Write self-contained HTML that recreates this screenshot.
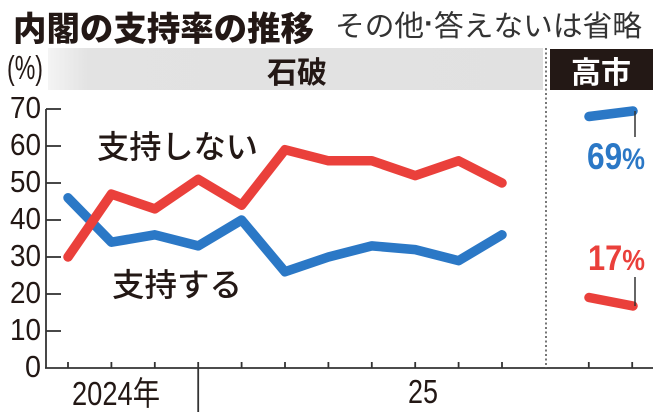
<!DOCTYPE html>
<html><head><meta charset="utf-8"><style>
html,body{margin:0;padding:0;background:#fff;}
svg{display:block;}
text{font-family:"Liberation Sans","Noto Sans CJK JP",sans-serif;}
.cjk{font-family:"Noto Sans CJK JP","Liberation Sans",sans-serif;}
</style></head><body>
<svg width="667" height="419" viewBox="0 0 667 419" xmlns="http://www.w3.org/2000/svg">
<defs>
<linearGradient id="g" x1="0" x2="1" y1="0" y2="0">
<stop offset="0" stop-color="#f4f4f4"/>
<stop offset="0.08" stop-color="#e3e3e3"/>
<stop offset="1" stop-color="#e1e1e1"/>
</linearGradient>
</defs>
<rect width="667" height="419" fill="#fff"/>
<!-- title -->
<text class="cjk" x="13" y="26" dominant-baseline="central" font-size="33.5" font-weight="900" fill="#231815" textLength="301" lengthAdjust="spacingAndGlyphs">内閣の支持率の推移</text>
<text class="cjk" x="335" y="24" dominant-baseline="central" font-size="29" font-weight="400" fill="#333" textLength="307" lengthAdjust="spacingAndGlyphs">その他<tspan font-family="Liberation Sans" font-weight="700">·</tspan>答えないは省略</text>
<!-- header band -->
<rect x="48" y="48" width="495" height="42" fill="url(#g)"/>
<text class="cjk" x="297" y="70" text-anchor="middle" dominant-baseline="central" font-size="30" font-weight="700" fill="#231815">石破</text>
<rect x="550" y="49" width="103" height="41" fill="#231815"/>
<text class="cjk" x="601" y="70" text-anchor="middle" dominant-baseline="central" font-size="30" font-weight="700" fill="#fff">高市</text>
<text x="7" y="79" font-size="33" fill="#231815" textLength="36" lengthAdjust="spacingAndGlyphs">(%)</text>
<!-- y labels -->
<g font-size="31" fill="#231815">
<text x="10" y="118" textLength="31" lengthAdjust="spacingAndGlyphs">70</text>
<text x="10" y="155" textLength="31" lengthAdjust="spacingAndGlyphs">60</text>
<text x="10" y="192" textLength="31" lengthAdjust="spacingAndGlyphs">50</text>
<text x="10" y="229" textLength="31" lengthAdjust="spacingAndGlyphs">40</text>
<text x="10" y="266" textLength="31" lengthAdjust="spacingAndGlyphs">30</text>
<text x="10" y="303" textLength="31" lengthAdjust="spacingAndGlyphs">20</text>
<text x="10" y="340" textLength="31" lengthAdjust="spacingAndGlyphs">10</text>
<text x="25" y="377" textLength="16" lengthAdjust="spacingAndGlyphs">0</text>
</g>
<!-- axes -->
<g stroke="#333" stroke-width="1.8" fill="none">
<line x1="46" y1="109" x2="46" y2="368"/>
<line x1="45" y1="368" x2="653" y2="368"/>
<line x1="46" y1="109" x2="61" y2="109"/>
<line x1="46" y1="146" x2="61" y2="146"/>
<line x1="46" y1="183" x2="61" y2="183"/>
<line x1="46" y1="220" x2="61" y2="220"/>
<line x1="46" y1="257" x2="61" y2="257"/>
<line x1="46" y1="294" x2="61" y2="294"/>
<line x1="46" y1="331" x2="61" y2="331"/>
<line x1="68" y1="362" x2="68" y2="368"/>
<line x1="111.4" y1="362" x2="111.4" y2="368"/>
<line x1="154.8" y1="362" x2="154.8" y2="368"/>
<line x1="198.2" y1="362" x2="198.2" y2="412"/>
<line x1="241.6" y1="362" x2="241.6" y2="368"/>
<line x1="285" y1="362" x2="285" y2="368"/>
<line x1="328.4" y1="362" x2="328.4" y2="368"/>
<line x1="371.8" y1="362" x2="371.8" y2="368"/>
<line x1="415.2" y1="362" x2="415.2" y2="368"/>
<line x1="458.6" y1="362" x2="458.6" y2="368"/>
<line x1="502" y1="362" x2="502" y2="368"/>
<line x1="588.8" y1="362" x2="588.8" y2="368"/>
<line x1="632.2" y1="362" x2="632.2" y2="368"/>
</g>
<line x1="546" y1="48" x2="546" y2="368" stroke="#555" stroke-width="1.6" stroke-dasharray="2,2.5"/>
<!-- x labels -->
<text x="72" y="405" font-size="33" fill="#231815" textLength="88" lengthAdjust="spacingAndGlyphs">2024年</text>
<text x="408" y="403" font-size="33" fill="#231815" textLength="30" lengthAdjust="spacingAndGlyphs">25</text>
<!-- series -->
<g fill="none" stroke-width="9.5" stroke-linecap="round" stroke-linejoin="round">
<polyline stroke="#2b78c6" points="68,197.8 111.4,242.2 154.8,234.8 198.2,245.9 241.6,220 285,271.8 328.4,257 371.8,245.9 415.2,249.6 458.6,260.7 502,234.8"/>
<polyline stroke="#ea403b" points="68,257 111.4,194.1 154.8,208.9 198.2,179.3 241.6,205.2 285,149.7 328.4,160.8 371.8,160.8 415.2,175.6 458.6,160.8 502,183"/>
<line stroke="#2b78c6" x1="589" y1="116.5" x2="633" y2="111"/>
<line stroke="#ea403b" x1="589" y1="297.5" x2="633" y2="306"/>
</g>
<line x1="635" y1="111" x2="635" y2="137" stroke="#333" stroke-width="1.5"/>
<line x1="635" y1="277" x2="635" y2="306" stroke="#333" stroke-width="1.5"/>
<!-- series labels -->
<text class="cjk" x="97" y="145" dominant-baseline="central" font-size="32" font-weight="500" fill="#231815" textLength="161" lengthAdjust="spacingAndGlyphs">支持しない</text>
<text class="cjk" x="112" y="283" dominant-baseline="central" font-size="32" font-weight="500" fill="#231815" textLength="130" lengthAdjust="spacingAndGlyphs">支持する</text>
<text x="587" y="169" font-size="37" font-weight="700" fill="#2b78c6" textLength="58" lengthAdjust="spacingAndGlyphs">69<tspan font-size="30">%</tspan></text>
<text x="588" y="270" font-size="35" font-weight="700" fill="#ea403b" textLength="57" lengthAdjust="spacingAndGlyphs">17<tspan font-size="29">%</tspan></text>
</svg>
</body></html>
